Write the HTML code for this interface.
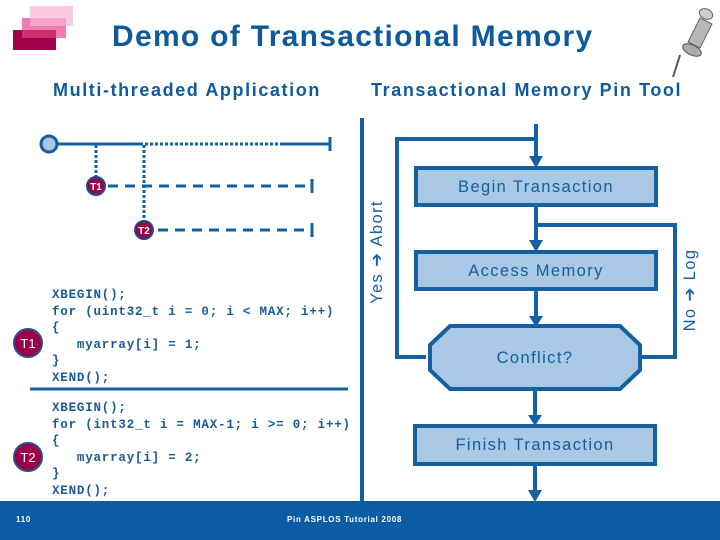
<!DOCTYPE html>
<html><head><meta charset="utf-8"><style>
body{margin:0;width:720px;height:540px;overflow:hidden;background:#fff;position:relative;font-family:"Liberation Sans","DejaVu Sans",sans-serif}
.a{position:absolute}
.code{position:absolute;left:52px;font:bold 12.5px/16.6px "Liberation Mono",monospace;color:#1a5a96;white-space:pre;letter-spacing:0.8px}
</style></head><body>
<div class="a" style="left:30px;top:6px;width:43px;height:20px;background:#f9c9df"></div>
<div class="a" style="left:22px;top:18px;width:44px;height:20px;background:#f07cb0"></div>
<div class="a" style="left:13px;top:30px;width:43px;height:20px;background:#a3004c"></div>
<div class="a" style="left:30px;top:18px;width:36px;height:8px;background:#f5a3c8"></div>
<div class="a" style="left:22px;top:30px;width:34px;height:8px;background:#c8306e"></div>
<div class="a" style="left:112px;top:20px;font-weight:bold;font-size:30px;color:#0f5a9c;letter-spacing:1.3px">Demo of Transactional Memory</div>
<div class="a" style="left:53px;top:80px;font-weight:bold;font-size:18px;color:#0f5a9c;letter-spacing:1.6px">Multi-threaded Application</div>
<div class="a" style="left:371px;top:80px;font-weight:bold;font-size:18px;color:#0f5a9c;letter-spacing:1.6px">Transactional Memory Pin Tool</div>

<svg class="a" style="left:0;top:0" width="720" height="540">
<g>
<line x1="680" y1="55" x2="673" y2="77" stroke="#555" stroke-width="2"/>
<path d="M688 42 L700 18 L712 24 L700 48 Z" fill="#b8b8b8" stroke="#666"/>
<ellipse cx="706" cy="14" rx="7" ry="5" fill="#ccc" stroke="#666" transform="rotate(25 706 14)"/>
<ellipse cx="692" cy="50" rx="10" ry="5" fill="#aaa" stroke="#555" transform="rotate(25 692 50)"/>
</g>
<g stroke="#1460a0" fill="none">
<line x1="56" y1="144" x2="143" y2="144" stroke-width="3"/>
<line x1="145" y1="144" x2="280" y2="144" stroke-width="3" stroke-dasharray="3,2"/>
<line x1="280" y1="144" x2="330" y2="144" stroke-width="3"/>
<line x1="330" y1="137" x2="330" y2="151" stroke-width="3"/>
<line x1="96" y1="145" x2="96" y2="178" stroke-width="3" stroke-dasharray="3,2"/>
<line x1="144" y1="145" x2="144" y2="222" stroke-width="3" stroke-dasharray="3,2"/>
<line x1="108" y1="186" x2="310" y2="186" stroke-width="3" stroke-dasharray="10,7"/>
<line x1="312" y1="179" x2="312" y2="193" stroke-width="3"/>
<line x1="158" y1="230" x2="310" y2="230" stroke-width="3" stroke-dasharray="10,7"/>
<line x1="312" y1="223" x2="312" y2="237" stroke-width="3"/>
<circle cx="49" cy="144" r="8" fill="#a8c8e4" stroke-width="3"/>
<line x1="362" y1="118" x2="362" y2="502" stroke-width="4"/>
<line x1="30" y1="389" x2="348" y2="389" stroke-width="3"/>
<g stroke-width="4">
<polyline points="536,124 536,158"/>
<polyline points="426,357 397,357 397,139 536,139"/>
<polyline points="536,206 536,242"/>
<polyline points="640,357 675,357 675,225 536,225"/>
<polyline points="536,290 536,318"/>
<polyline points="535,390 535,417"/>
<polyline points="535,465 535,492"/>
</g>
<rect x="416" y="168" width="240" height="37" fill="#a8c8e4" stroke-width="4"/>
<rect x="416" y="252" width="240" height="37" fill="#a8c8e4" stroke-width="4"/>
<rect x="415" y="426" width="240" height="38" fill="#a8c8e4" stroke-width="4"/>
<polygon points="450,326 620,326 640,345 640,370 620,389 450,389 430,370 430,345" fill="#a8c8e4" stroke-width="4"/>
</g>
<g fill="#1460a0">
<polygon points="529,156 543,156 536,168"/>
<polygon points="529,240 543,240 536,252"/>
<polygon points="529,316 543,316 536,327"/>
<polygon points="528,415 542,415 535,426"/>
<polygon points="528,490 542,490 535,502"/>
</g>
<g font-weight="bold" font-family="Liberation Sans,sans-serif" text-anchor="middle" fill="#fff">
<circle cx="96" cy="186" r="9" fill="#9a0048" stroke="#1d4f86" stroke-width="2"/>
<text x="96" y="190" font-size="10">T1</text>
<circle cx="144" cy="230" r="9" fill="#9a0048" stroke="#1d4f86" stroke-width="2"/>
<text x="144" y="234" font-size="10">T2</text>
<circle cx="28" cy="343" r="14" fill="#9a0048" stroke="#2a4f8a" stroke-width="2"/>
<text x="28" y="348" font-size="13" font-weight="normal">T1</text>
<circle cx="28" cy="457" r="14" fill="#9a0048" stroke="#2a4f8a" stroke-width="2"/>
<text x="28" y="462" font-size="13" font-weight="normal">T2</text>
</g>
<g font-family="Liberation Sans,sans-serif" font-size="16.5" fill="#1460a0" text-anchor="middle" letter-spacing="1.4">
<text x="536" y="192">Begin Transaction</text>
<text x="536" y="276">Access Memory</text>
<text x="535" y="363">Conflict?</text>
<text x="535" y="450">Finish Transaction</text>
<text transform="translate(382 252) rotate(-90)">Yes ➔ Abort</text>
<text transform="translate(695 290) rotate(-90)">No ➔ Log</text>
</g>
</svg>

<div class="code" style="top:287px">XBEGIN();
for (uint32_t i = 0; i &lt; MAX; i++)
{
   myarray[i] = 1;
}
XEND();</div>
<div class="code" style="top:400px">XBEGIN();
for (int32_t i = MAX-1; i &gt;= 0; i++)
{
   myarray[i] = 2;
}
XEND();</div>

<div class="a" style="left:0;top:501px;width:720px;height:39px;background:#0b5ca4"></div>
<div class="a" style="left:16px;top:515px;font-size:8px;font-weight:bold;color:#fff;letter-spacing:0.7px">110</div>
<div class="a" style="left:287px;top:515px;font-size:8px;font-weight:bold;color:#fff;letter-spacing:0.7px">Pin ASPLOS Tutorial 2008</div>
</body></html>
